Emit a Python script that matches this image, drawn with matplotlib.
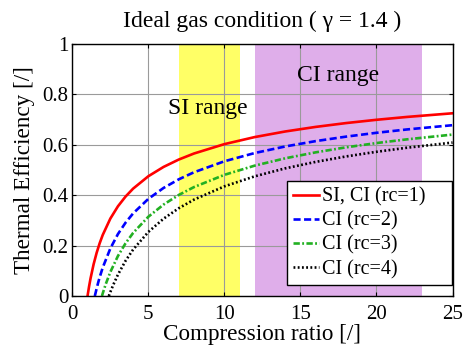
import matplotlib
matplotlib.use("Agg")
import matplotlib.pyplot as plt

# Compression ratio / thermal efficiency readings for each cutoff ratio
r_rc1 = [1.0, 1.1, 1.2, 1.4, 1.6, 1.8, 2.0, 2.5, 3.0, 3.5, 4.0, 5.0, 6.0, 7.0, 8.0,
         10.0, 12.0, 14.0, 16.0, 18.0, 20.0, 22.0, 25.0]
eta_rc1 = [0.0, 0.0374, 0.0703, 0.1259, 0.1714, 0.2095, 0.2421, 0.3069, 0.3556, 0.3941,
           0.4257, 0.4747, 0.5116, 0.5408, 0.5647, 0.6019, 0.6299, 0.6520, 0.6701,
           0.6853, 0.6983, 0.7096, 0.7241]

r_rc2 = [1.48, 1.55, 1.6, 1.7, 1.8, 2.0, 2.5, 3.0, 3.5, 4.0, 5.0, 6.0, 7.0, 8.0,
         10.0, 12.0, 14.0, 16.0, 18.0, 20.0, 22.0, 25.0]
eta_rc2 = [0.0, 0.0175, 0.0299, 0.0532, 0.0746, 0.1128, 0.1885, 0.2456, 0.2907, 0.3276,
           0.3850, 0.4283, 0.4624, 0.4904, 0.5339, 0.5667, 0.5926, 0.6138, 0.6316,
           0.6468, 0.6600, 0.6769]

r_rc3 = [1.95, 2.0, 2.2, 2.5, 3.0, 3.5, 4.0, 5.0, 6.0, 7.0, 8.0, 10.0, 12.0, 14.0,
         16.0, 18.0, 20.0, 22.0, 25.0]
eta_rc3 = [0.0, 0.0106, 0.0476, 0.0951, 0.1587, 0.2090, 0.2502, 0.3142, 0.3624, 0.4005,
           0.4317, 0.4802, 0.5168, 0.5457, 0.5693, 0.5892, 0.6061, 0.6208, 0.6397]

r_rc4 = [2.40, 2.5, 2.7, 3.0, 3.5, 4.0, 5.0, 6.0, 7.0, 8.0, 10.0, 12.0, 14.0, 16.0,
         18.0, 20.0, 22.0, 25.0]
eta_rc4 = [0.0, 0.0157, 0.0455, 0.0849, 0.1396, 0.1844, 0.2540, 0.3065, 0.3479, 0.3819,
           0.4346, 0.4744, 0.5059, 0.5315, 0.5531, 0.5715, 0.5876, 0.6081]

series_labels = ["SI, CI (rc=1)", "CI (rc=2)", "CI (rc=3)", "CI (rc=4)"]
si_range = [7, 11]
ci_range = [12, 23]
x_ticks = [0, 5, 10, 15, 20, 25]
y_ticks = [0, 0.2, 0.4, 0.6, 0.8, 1]
y_tick_labels = ["0", "0.2", "0.4", "0.6", "0.8", "1"]

plt.rcParams["font.family"] = ["Liberation Serif", "DejaVu Serif"]

fig = plt.figure(figsize=(4.63, 3.52), dpi=100)
ax = fig.add_axes([0.1562, 0.159, 0.8212, 0.717])

ax.axvspan(si_range[0], si_range[1], color="#ffff66", lw=0, zorder=0)
ax.axvspan(ci_range[0], ci_range[1], color="#dfaeea", lw=0, zorder=0)

ax.grid(True, color="#9a9a9a", lw=0.8, zorder=1)
ax.set_axisbelow(True)

lw = 1.9
ax.plot(r_rc1, eta_rc1, color="#ff0000", lw=lw, ls="-", label=series_labels[0], zorder=3)
ax.plot(r_rc2, eta_rc2, color="#0000ff", lw=lw, ls=(0, (2.7, 1.3)), label=series_labels[1], zorder=3)
ax.plot(r_rc3, eta_rc3, color="#22b022", lw=lw, ls=(0, (2.4, 0.9, 0.7, 0.9)), label=series_labels[2], zorder=3)
ax.plot(r_rc4, eta_rc4, color="#000000", lw=lw, ls=(0, (0.7, 0.9)), label=series_labels[3], zorder=3)

ax.text(8.9, 0.745, "SI range", fontsize=17, ha="center", va="center", zorder=4)
ax.text(17.45, 0.872, "CI range", fontsize=17, ha="center", va="center", zorder=4)

ax.set_xlim(0, 25)
ax.set_ylim(0, 1)
ax.set_xticks(x_ticks)
ax.set_yticks(y_ticks)
ax.set_yticklabels(y_tick_labels)
ax.tick_params(direction="in", top=True, right=True, labelsize=15, length=3, width=0.8)
ax.tick_params(axis="x", pad=6.3)
ax.tick_params(axis="y", pad=2.7)
for s in ax.spines.values():
    s.set_linewidth(1.0)
    s.set_zorder(5)

ax.set_xlabel("Compression ratio [/]", fontsize=16.7, labelpad=0.5)
ax.set_ylabel("Thermal Efficiency [/]", fontsize=16.7, labelpad=5.5)
ax.set_title("Ideal gas condition ( \u03b3 = 1.4 )", fontsize=17, pad=12)

leg = ax.legend(loc="lower left", bbox_to_anchor=(0.5647, 0.0436, 0.434, 0.0),
                mode="expand", fontsize=14.5, frameon=True, fancybox=False,
                edgecolor="black", framealpha=1, borderpad=0.3, labelspacing=0.24,
                handlelength=1.3, handletextpad=0.15, borderaxespad=0.0)
leg.get_frame().set_linewidth(1.0)
leg.set_zorder(6)

fig.savefig("out.png", dpi=100)
